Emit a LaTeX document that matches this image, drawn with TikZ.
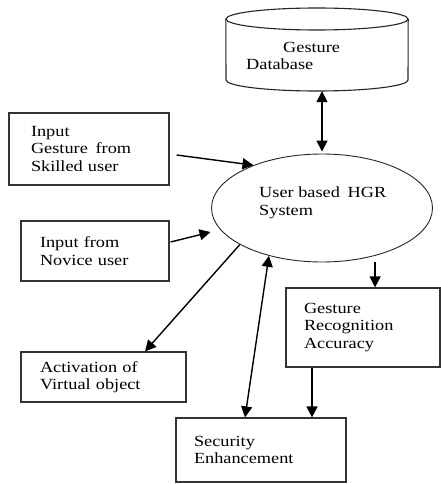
\documentclass[tikz,border=0pt]{standalone}
\usepackage{fontspec}
\setmainfont{Liberation Serif}[FakeStretch=1.18]
\usetikzlibrary{arrows.meta,shapes.geometric}

\tikzset{
  box/.style={draw=black!80, line width=1.2pt, rectangle, align=left,
    inner xsep=18pt, inner ysep=0pt},
  arr/.style={-{Triangle[length=11pt,width=11pt]}, line width=1.4pt},
  dblarr/.style={{Triangle[length=11pt,width=11pt]}-{Triangle[length=11pt,width=11pt]}, line width=1.4pt},
  plain/.style={align=left, inner sep=0pt, anchor=north west}
}

\begin{document}
\begin{tikzpicture}[x=1pt,y=-1pt,
    every node/.append style={font=\fontsize{15.5pt}{17.5pt}\selectfont}]
    % Page size
    \useasboundingbox[fill=white] (0,0) rectangle (441,484);

    % Define the database drum
    \def\dbrx{91}
    \def\dbry{11}
    \node[inner sep=0pt, minimum width=182pt, minimum height=84pt] (db) at (317,49) {};
    \draw[black!85, line width=1.1pt] (317,19) ellipse [x radius=\dbrx, y radius=\dbry];
    \draw[black!85, line width=1.1pt] (db.north west |- 0,19) -- (226,80)
        arc[start angle=180, end angle=0, x radius=\dbrx, y radius=\dbry] -- (db.north east |- 0,19);
    \node[plain] (dbtext) at (246,42) {\hspace*{37pt}Gesture\\Database};

    % The HGR system
    \node[draw=black!85, line width=0.9pt, ellipse, minimum width=221pt,
          minimum height=108pt, inner sep=0pt] (hgr) at (322,208) {};
    \node[plain] (hgrtext) at (259,187) {User based\enspace HGR\\System};

    % Input boxes
    \node[box, inner xsep=22pt, text width=116pt, minimum height=72pt] (skill) at (89,149)
        {Input\\Gesture\enspace from\\Skilled user};
    \node[box, inner xsep=19pt, text width=110pt, minimum height=60pt] (novice) at (95,251)
        {Input from\\Novice user};

    % Output boxes
    \node[box, inner xsep=19pt, text width=127pt, minimum height=50pt] (act) at (103.5,377)
        {Activation of\\Virtual object};
    \node[box, text width=118pt, minimum height=79pt] (gra) at (363,327.5)
        {Gesture\\Recognition\\Accuracy};
    \node[box, text width=134pt, minimum height=64pt] (sec) at (261,450)
        {Security\\Enhancement};

    % Connectors
    \draw[dblarr, shorten >=2pt] (hgr.north |- db.south) -- (hgr.north);
    \draw[arr] ([xshift=7pt,yshift=-6pt]skill.east) -- (hgr.148);
    \draw[arr, shorten >=10pt] ([xshift=1pt,yshift=9pt]novice.east) -- (hgr.192.8);
    \draw[arr] (hgr.204.8) -- ([xshift=41.5pt]act.north);
    \draw[dblarr] ([xshift=-16pt]sec.north) -- (hgr.222.5);
    \draw[arr, shorten <=6pt] (hgr.-42.5) -- (hgr.-42.5 |- gra.north);
    \draw[arr] ([xshift=-51pt]gra.south) -- ([xshift=-51pt]gra.south |- sec.north);

\end{tikzpicture}
\end{document}
